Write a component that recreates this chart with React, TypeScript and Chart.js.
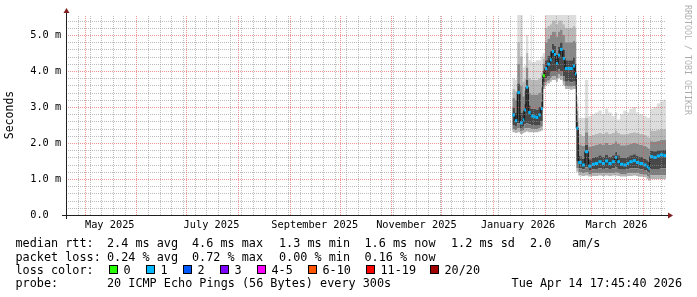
import React, { useEffect, useRef } from 'react';
import { Chart, registerables } from 'chart.js';
Chart.register(...registerables);

// ---- time helpers (days relative to 2026-01-01 00:00) ----
const DAY0 = Date.UTC(2026, 0, 1);
const dayOf = (y: number, m: number, d: number) => (Date.UTC(y, m, d) - DAY0) / 86400000;
const END_DAY = dayOf(2026, 3, 14) + (17 * 3600 + 45 * 60 + 40) / 86400;
const START_DAY = END_DAY - 360;
const Y_MAX = 200 / 36;

// ---- data ----
const days = [11.5, 13.1, 14.5, 16.1, 17.8, 18.7, 19.7, 21.1, 22.6, 23.2, 24.1, 25.6, 27.1, 28.6,
  29.8, 31.1, 32.5, 34.1, 35.2, 36.5, 37.7, 38.9, 40.1, 41.8, 43.1, 44.5, 46.1, 47.8, 49.1,
  49.9,
  51.1, 53.2, 55.1, 57.1, 59.2, 61.1, 63.1, 65.2, 67.1, 69.1, 71.2, 73.1, 74.5, 76.1, 78.1, 80.2, 81.7, 83.8, 85.7, 87.7, 90.1, 92.1, 93.1,
  94.1, 96.1, 98.2, 100.1, 102.1];

const median = [2.78, 2.62, 3.40, 2.56, 2.64, 2.92, 3.55, 2.85, 2.75, 2.75, 2.73, 2.71, 2.78, 2.96,
  3.87, 4.07, 4.19, 4.31, 4.54, 4.46, 4.21, 4.44, 4.60, 4.35, 4.07, 4.07, 4.07, 4.14, 3.92,
  2.41,
  1.46, 1.39, 1.76, 1.36, 1.41, 1.43, 1.48, 1.43, 1.50, 1.43, 1.48, 1.60, 1.48, 1.41, 1.39, 1.43, 1.48, 1.51, 1.46, 1.43, 1.39, 1.34, 1.30,
  1.62, 1.60, 1.64, 1.67, 1.65];

const lossLevel = [1, 1, 1, 1, 1, 1, 1, 1, 1, 1, 1, 1, 1, 1,
  0, 1, 1, 1, 1, 1, 1, 1, 1, 1, 1, 1, 1, 1, 1,
  1,
  1, 1, 1, 1, 1, 1, 1, 1, 1, 1, 1, 1, 1, 1, 1, 1, 1, 1, 1, 1, 1, 1, 1,
  1, 1, 1, 1, 1];

const smokeLo = [2.30, 2.28, 2.30, 2.25, 2.28, 2.30, 2.32, 2.30, 2.30, 2.30, 2.30, 2.30, 2.32, 2.35,
  3.50, 3.60, 3.65, 3.70, 3.75, 3.75, 3.70, 3.80, 3.75, 3.60, 3.50, 3.50, 3.48, 3.50, 3.50,
  1.20,
  1.10, 1.08, 1.10, 1.07, 1.08, 1.08, 1.10, 1.08, 1.10, 1.08, 1.10, 1.10, 1.08, 1.07, 1.07, 1.08, 1.08, 1.10, 1.08, 1.06, 1.05, 1.00, 0.95,
  1.00, 1.00, 1.00, 1.00, 1.00];
const smokeB2 = [2.38, 2.35, 2.40, 2.33, 2.36, 2.40, 2.42, 2.40, 2.38, 2.38, 2.38, 2.38, 2.40, 2.45,
  3.58, 3.68, 3.73, 3.80, 3.85, 3.85, 3.80, 3.90, 3.85, 3.70, 3.58, 3.58, 3.56, 3.58, 3.58,
  1.30,
  1.18, 1.15, 1.18, 1.14, 1.15, 1.15, 1.17, 1.15, 1.17, 1.15, 1.17, 1.18, 1.15, 1.14, 1.14, 1.15, 1.16, 1.17, 1.16, 1.14, 1.12, 1.08, 1.03,
  1.10, 1.10, 1.10, 1.10, 1.10];
const smokeB1 = [2.50, 2.45, 2.55, 2.42, 2.45, 2.52, 2.55, 2.52, 2.50, 2.50, 2.48, 2.48, 2.50, 2.60,
  3.68, 3.80, 3.85, 3.95, 4.00, 4.00, 3.95, 4.05, 4.00, 3.85, 3.70, 3.70, 3.68, 3.70, 3.70,
  1.50,
  1.30, 1.27, 1.32, 1.25, 1.27, 1.28, 1.30, 1.28, 1.30, 1.28, 1.30, 1.32, 1.28, 1.26, 1.26, 1.27, 1.29, 1.30, 1.29, 1.27, 1.25, 1.20, 1.15,
  1.28, 1.28, 1.28, 1.30, 1.30];
const smokeU1 = [2.98, 2.85, 3.65, 2.85, 2.90, 3.10, 3.75, 3.05, 2.95, 2.95, 2.95, 2.93, 3.00, 3.15,
  4.00, 4.30, 4.42, 4.55, 4.75, 4.70, 4.45, 4.68, 4.80, 4.58, 4.30, 4.30, 4.30, 4.38, 4.20,
  2.60,
  1.64, 1.57, 1.95, 1.55, 1.60, 1.62, 1.66, 1.62, 1.68, 1.62, 1.66, 1.76, 1.66, 1.60, 1.58, 1.62, 1.66, 1.69, 1.64, 1.61, 1.57, 1.52, 1.48,
  1.78, 1.77, 1.80, 1.82, 1.81];
const smokeU2 = [3.25, 3.20, 4.20, 3.60, 3.30, 3.45, 4.10, 3.40, 3.35, 3.35, 3.35, 3.35, 3.40, 3.55,
  4.20, 4.80, 4.90, 5.00, 5.10, 5.10, 4.95, 5.10, 5.15, 5.00, 4.80, 4.80, 4.80, 4.85, 4.80,
  2.90,
  1.95, 1.92, 2.30, 1.90, 1.92, 1.95, 1.97, 1.95, 2.00, 1.95, 1.98, 2.05, 1.97, 1.94, 1.94, 1.95, 1.97, 2.00, 1.97, 1.95, 1.92, 1.88, 1.85,
  2.05, 2.04, 2.06, 2.08, 2.08];
const smokeU3 = [3.50, 3.45, 4.80, 4.40, 3.70, 3.80, 4.50, 3.80, 3.75, 3.75, 3.75, 3.75, 3.80, 3.95,
  4.35, 5.20, 5.25, 5.30, 5.40, 5.40, 5.30, 5.40, 5.40, 5.30, 5.20, 5.20, 5.20, 5.25, 5.20,
  3.10,
  2.25, 2.20, 2.70, 2.20, 2.22, 2.25, 2.28, 2.25, 2.30, 2.25, 2.28, 2.35, 2.28, 2.24, 2.24, 2.25, 2.28, 2.30, 2.28, 2.25, 2.22, 2.18, 2.15,
  2.35, 2.34, 2.36, 2.38, 2.38];
const smokeHi = [3.80, 3.75, 5.80, 5.80, 4.10, 4.15, 5.00, 4.30, 5.80, 4.25, 4.25, 4.30, 4.30, 4.40,
  4.50, 5.80, 5.80, 5.80, 5.80, 5.80, 5.80, 5.80, 5.80, 5.80, 5.80, 5.80, 5.80, 5.80, 5.80,
  3.30,
  2.70, 2.70, 3.75, 2.75, 2.80, 2.85, 2.90, 2.80, 2.95, 2.85, 2.75, 2.85, 2.65, 2.80, 2.90, 2.85, 2.95, 3.00, 2.85, 2.80, 2.75, 2.70, 2.70,
  2.95, 3.00, 3.10, 3.15, 3.20];

// ---- tick labels ----
const yTickLabels = ['0.0  ', '1.0 m', '2.0 m', '3.0 m', '4.0 m', '5.0 m'];
const xLabelMonths: [number, number][] = [[2025, 4], [2025, 6], [2025, 8], [2025, 10], [2026, 0], [2026, 2]];
const xTickLabels = ['May 2025', 'July 2025', 'September 2025', 'November 2025', 'January 2026', 'March 2026'];

// ---- legend text ----
const lossColors = ['#26ff00', '#00b8ff', '#0059ff', '#7e00ff', '#ff00ff', '#ff5500', '#ff0000', '#a10000'];
const lossLabels = ['0', '1', '2', '3', '4-5', '6-10', '11-19', '20/20'];
const rttStats = ['2.4 ms avg', '4.6 ms max', '1.3 ms min', '1.6 ms now', '1.2 ms sd', '2.0', 'am/s'];
const lossStats = ['0.24 % avg', '0.72 % max', '0.00 % min', '0.16 % now'];
const probeText = '20 ICMP Echo Pings (56 Bytes) every 300s';
const dateText = 'Tue Apr 14 17:45:40 2026';

const GRID = 'rgba(143,143,143,0.6)';
const MGRID = 'rgba(222,79,79,0.6)';
const NONE = 'rgba(0,0,0,0)';
const MONO = '"DejaVu Sans Mono", monospace';

function buildXTicks() {
  const ticks: any[] = [];
  const majors: number[] = [];
  for (let y = 2025, m = 4; y < 2026 || m <= 3; ) {
    majors.push(dayOf(y, m, 1));
    m++;
    if (m > 11) { m = 0; y++; }
  }
  for (let d = Math.ceil(START_DAY); d <= END_DAY; d++) {
    if ((((d - 3) % 7) + 7) % 7 === 0 && !majors.includes(d)) ticks.push({ value: d, kind: 'minor', text: '' });
  }
  majors.forEach((v) => ticks.push({ value: v, kind: 'major', text: '' }));
  xLabelMonths.forEach(([y, m], i) => ticks.push({ value: dayOf(y, m, 1) + 15, kind: 'label', text: xTickLabels[i] }));
  ticks.sort((a, b) => a.value - b.value);
  return ticks;
}

function buildYTicks() {
  const ticks: any[] = [];
  for (let k = 0; k * 0.2 <= Y_MAX; k++) {
    const major = k % 5 === 0;
    ticks.push({ value: k * 0.2, kind: major ? 'major' : 'minor', text: major ? yTickLabels[k / 5] : '' });
  }
  return ticks;
}

const stepData = (vals: number[]) =>
  days.map((d, i) => ({ x: d, y: vals[i] })).concat([{ x: END_DAY, y: vals[vals.length - 1] }]);

const X_TICKS = buildXTicks();
const Y_TICKS = buildYTicks();

const gridPlugin = {
  id: 'rrdgrid',
  afterDatasetsDraw(chart: any) {
    const { ctx } = chart;
    const { left, right, top, bottom } = chart.chartArea;
    const xs = chart.scales.x;
    const ys = chart.scales.y;
    ctx.save();
    ctx.lineWidth = 1;
    ctx.setLineDash([1, 1]);
    for (const pass of ['minor', 'major']) {
      ctx.strokeStyle = pass === 'major' ? MGRID : GRID;
      for (const t of Y_TICKS) {
        if (t.kind !== pass || t.value === 0) continue;
        const py = Math.round(ys.getPixelForValue(t.value)) + 0.5;
        ctx.beginPath();
        ctx.moveTo(left, py);
        ctx.lineTo(right, py);
        ctx.stroke();
      }
      for (const t of X_TICKS) {
        if (t.kind !== pass) continue;
        const px = Math.round(xs.getPixelForValue(t.value)) + 0.5;
        if (px <= left + 1 || px >= right) continue;
        ctx.beginPath();
        ctx.moveTo(px, bottom);
        ctx.lineTo(px, top);
        ctx.stroke();
      }
    }
    ctx.restore();
  },
};

const decorPlugin = {
  id: 'decor',
  afterDraw(chart: any) {
    const { ctx } = chart;
    const { left, right, top, bottom } = chart.chartArea;
    ctx.save();
    ctx.strokeStyle = 'rgb(31,31,31)';
    ctx.lineWidth = 1;
    ctx.setLineDash([]);
    ctx.beginPath();
    ctx.moveTo(left - 4, bottom + 0.5);
    ctx.lineTo(right + 4, bottom + 0.5);
    ctx.moveTo(left + 0.5, bottom + 4);
    ctx.lineTo(left + 0.5, top - 4);
    ctx.stroke();
    ctx.fillStyle = 'rgb(128,31,31)';
    ctx.beginPath();
    ctx.moveTo(right + 2, bottom + 0.5 - 3);
    ctx.lineTo(right + 2, bottom + 0.5 + 3);
    ctx.lineTo(right + 7, bottom + 0.5);
    ctx.closePath();
    ctx.fill();
    ctx.beginPath();
    ctx.moveTo(left + 0.5 - 3, top - 2);
    ctx.lineTo(left + 0.5 + 3, top - 2);
    ctx.lineTo(left + 0.5, top - 7);
    ctx.closePath();
    ctx.fill();
    // watermark
    ctx.save();
    ctx.translate(687, 5);
    ctx.rotate(Math.PI / 2);
    ctx.font = '8.3px ' + MONO;
    ctx.fillStyle = 'rgba(0,0,0,0.33)';
    ctx.textAlign = 'left';
    ctx.textBaseline = 'middle';
    ctx.fillText('RRDTOOL / TOBI OETIKER', 0, 0);
    ctx.restore();
    // legend
    ctx.font = '11.8px ' + MONO;
    ctx.fillStyle = '#000';
    ctx.textAlign = 'left';
    ctx.textBaseline = 'alphabetic';
    const cols = [107, 192, 279, 364.5, 451, 530, 572];
    const r1 = 247, r2 = 260.5, r3 = 274, r4 = 287.3;
    ctx.fillText('median rtt:', 15.5, r1);
    rttStats.forEach((t, i) => ctx.fillText(t, cols[i], r1));
    ctx.fillText('packet loss:', 15.5, r2);
    lossStats.forEach((t, i) => ctx.fillText(t, cols[i], r2));
    ctx.fillText('loss color:', 15.5, r3);
    const boxX = [108.5, 145.5, 182.5, 220, 257, 308, 366, 429.5];
    lossLabels.forEach((t, i) => {
      const bx = Math.round(boxX[i]);
      ctx.fillStyle = lossColors[i];
      ctx.fillRect(bx, 265, 9, 9);
      ctx.strokeStyle = '#000';
      ctx.lineWidth = 1;
      ctx.strokeRect(bx + 0.5, 265.5, 8, 8);
      ctx.fillStyle = '#000';
      ctx.fillText(t, bx + 14.5, r3);
    });
    ctx.fillText('probe:', 15.5, r4);
    ctx.fillText(probeText, 107, r4);
    ctx.textAlign = 'right';
    ctx.fillText(dateText, 682, r4);
    ctx.restore();
  },
};

export default function App() {
  const ref = useRef<HTMLCanvasElement | null>(null);
  useEffect(() => {
    document.body.style.margin = '0';
    const canvas = ref.current!;
    const bands: [number[], string][] = [
      [smokeLo, NONE],
      [smokeB2, '#b4b4b4'],
      [smokeB1, '#7c7c7c'],
      [median, '#484848'],
      [smokeU1, '#484848'],
      [smokeU2, '#888888'],
      [smokeU3, '#b8b8b8'],
      [smokeHi, '#dddddd'],
    ];
    const datasets: any[] = bands.map(([vals, color], i) => ({
      type: 'line',
      data: stepData(vals),
      stepped: 'before',
      borderWidth: 0,
      borderColor: NONE,
      pointRadius: 0,
      fill: i === 0 ? false : '-1',
      backgroundColor: color,
      order: 10,
    }));
    datasets.push({
      type: 'line',
      data: stepData(median),
      stepped: 'before',
      borderWidth: 1,
      borderColor: '#000',
      pointRadius: 0,
      fill: false,
      order: 1,
    });
    const dashData: any[] = [];
    days.forEach((d, i) => {
      const next = i + 1 < days.length ? days[i + 1] : END_DAY;
      dashData.push({ x: d, y: median[i] }, { x: next, y: median[i] }, { x: next, y: null });
    });
    datasets.push({
      type: 'line',
      data: dashData,
      borderWidth: 3,
      borderCapStyle: 'butt',
      borderColor: lossColors[1],
      segment: { borderColor: (c: any) => lossColors[lossLevel[Math.floor(c.p0DataIndex / 3)]] },
      spanGaps: false,
      pointRadius: 0,
      fill: false,
      order: 0,
    });

    const chart = new Chart(canvas, {
      type: 'line',
      data: { datasets },
      options: {
        animation: false,
        responsive: false,
        devicePixelRatio: 1,
        events: [],
        layout: { padding: { left: 0, right: 31, top: 15, bottom: 0 } },
        plugins: { legend: { display: false }, tooltip: { enabled: false } },
        scales: {
          x: {
            type: 'linear',
            min: START_DAY,
            max: END_DAY,
            afterBuildTicks: (s: any) => { s.ticks = X_TICKS.map((t) => ({ ...t })); },
            afterFit: (s: any) => { s.height = 82; },
            ticks: {
              autoSkip: false,
              maxRotation: 0,
              minRotation: 0,
              padding: 4,
              color: '#000',
              font: { family: MONO, size: 10.3 },
              callback: (_v: any, i: number, t: any[]) => t[i].text || '',
            },
            grid: { display: false, drawTicks: false },
            border: { display: false },
          },
          y: {
            type: 'linear',
            min: 0,
            max: Y_MAX,
            afterBuildTicks: (s: any) => { s.ticks = Y_TICKS.map((t) => ({ ...t })); },
            afterFit: (s: any) => { s.width = 66; },
            ticks: {
              autoSkip: false,
              padding: 4.8,
              color: '#000',
              font: { family: MONO, size: 10.3 },
              callback: (_v: any, i: number, t: any[]) => t[i].text || '',
            },
            grid: { display: false, drawTicks: false },
            border: { display: false },
            title: {
              display: true,
              text: 'Seconds',
              color: '#000',
              font: { family: MONO, size: 11.5 },
              padding: { top: 3.6, bottom: 0 },
            },
          },
        },
      } as any,
      plugins: [gridPlugin, decorPlugin],
    });
    return () => chart.destroy();
  }, []);
  return (
    <div style={{ position: 'absolute', left: 0, top: 0, width: 697, height: 297, background: '#fff' }}>
      <canvas ref={ref} width={697} height={297} style={{ display: 'block', width: 697, height: 297 }} />
    </div>
  );
}
